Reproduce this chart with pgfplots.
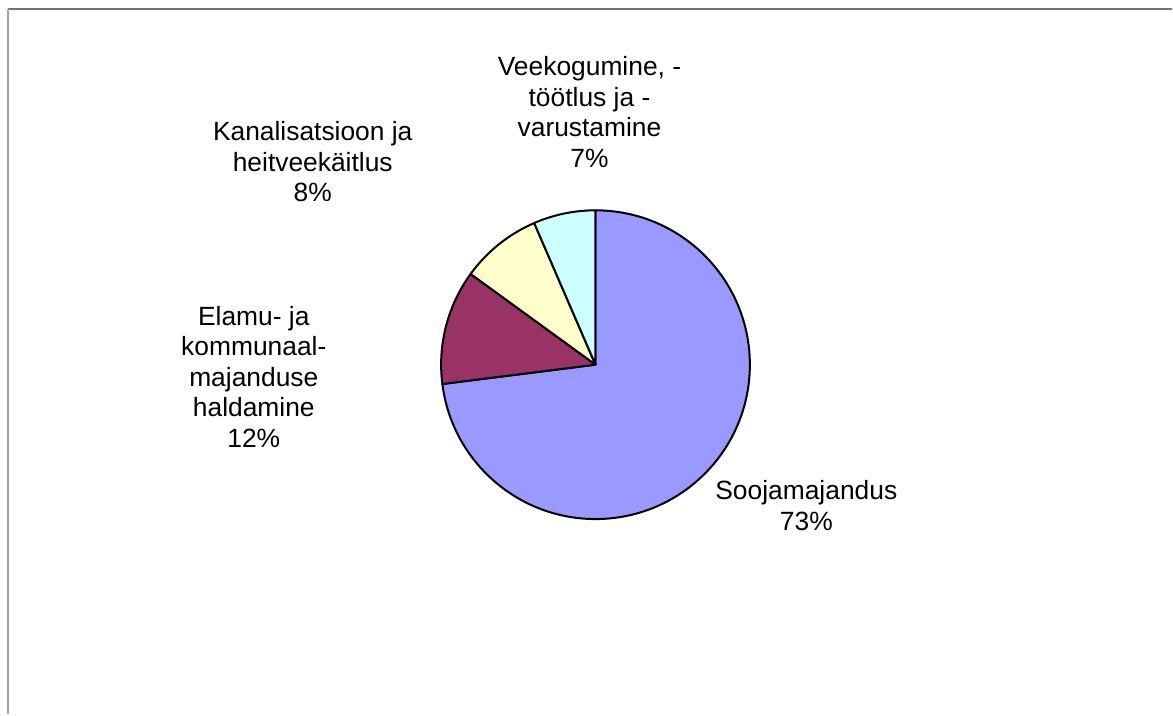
\documentclass[border=0pt]{standalone}
\usepackage{fontspec}
\setmainfont{Liberation Sans}
\usepackage{pgfplots}
\pgfplotsset{compat=1.18}
\definecolor{cA}{HTML}{9999FF}
\definecolor{cB}{HTML}{993366}
\definecolor{cC}{HTML}{FFFFCC}
\definecolor{cD}{HTML}{CCFFFF}
% slice values (percent), clockwise from 12 o'clock
\def\vA{73.0}% Soojamajandus
\def\vB{12.0}% Elamu- ja kommunaalmajanduse haldamine
\def\vC{8.5}%  Kanalisatsioon ja heitveekaitlus
\def\vD{6.5}%  Veekogumine, -tootlus ja -varustamine
\pgfmathsetmacro\aA{90}
\pgfmathsetmacro\aB{\aA-3.6*\vA}
\pgfmathsetmacro\aC{\aB-3.6*\vB}
\pgfmathsetmacro\aD{\aC-3.6*\vC}
\pgfmathsetmacro\aE{\aD-3.6*\vD}
\def\R{77.25pt}
\begin{document}
\begin{tikzpicture}
\begin{axis}[scale only axis, width=586.5pt, height=357.5pt,
  xmin=0, xmax=1173, ymin=0, ymax=715, y dir=reverse,
  hide axis, clip=false]
\path (axis cs:0,0) rectangle (axis cs:1173,715);
\draw[color=black!55, line width=1pt] (axis cs:8,9) -- (axis cs:1173,9);
\draw[color=black!35, line width=1pt] (axis cs:8,9) -- (axis cs:8,715);
\filldraw[fill=cA, draw=black, line width=1pt, line join=round] (axis cs:596,365) -- ++(\aA:\R) arc[start angle=\aA, end angle=\aB, radius=\R] -- cycle;
\filldraw[fill=cB, draw=black, line width=1pt, line join=round] (axis cs:596,365) -- ++(\aB:\R) arc[start angle=\aB, end angle=\aC, radius=\R] -- cycle;
\filldraw[fill=cC, draw=black, line width=1pt, line join=round] (axis cs:596,365) -- ++(\aC:\R) arc[start angle=\aC, end angle=\aD, radius=\R] -- cycle;
\filldraw[fill=cD, draw=black, line width=1pt, line join=round] (axis cs:596,365) -- ++(\aD:\R) arc[start angle=\aD, end angle=\aE, radius=\R] -- cycle;
\tikzset{lbl/.style={align=center, inner sep=0pt, font=\fontsize{13.2pt}{15.3pt}\selectfont}}
\node[lbl] at (axis cs:590,112) {Veekogumine, -\\töötlus ja -\\varustamine\\7\%};
\node[lbl] at (axis cs:313,162) {Kanalisatsioon ja\\heitveekäitlus\\8\%};
\node[lbl] at (axis cs:254,377) {Elamu- ja\\kommunaal-\\majanduse\\haldamine\\12\%};
\node[lbl] at (axis cs:807,506) {Soojamajandus\\73\%};
\end{axis}
\end{tikzpicture}
\end{document}
